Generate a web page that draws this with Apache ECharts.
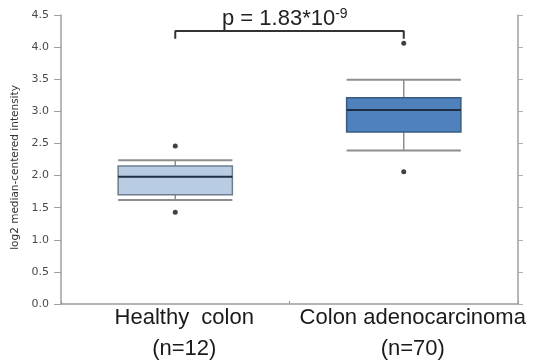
<!DOCTYPE html>
<html>
<head>
<meta charset="utf-8">
<script src="https://cdn.jsdelivr.net/npm/echarts@6/dist/echarts.min.js"></script>
<style>
html, body { margin: 0; padding: 0; background: #fff; }
#main { width: 536px; height: 362px; }
</style>
</head>
<body>
<div id="main"></div>
<script>
var myChart = echarts.init(document.getElementById('main'));

// groups and their box statistics: [min, q1, median, q3, max]
var groups = ['Healthy  colon\n(n=12)', 'Colon adenocarcinoma\n(n=70)'];
var boxStats = [
    [1.62, 1.70, 1.98, 2.15, 2.24],
    [2.39, 2.68, 3.02, 3.21, 3.49]
];
var outliers = [[0, 2.46], [0, 1.43], [1, 4.06], [1, 2.06]];
var boxFill = ['#b8cde4', '#4f81bd'];
var boxBorder = ['#6d7d8e', '#3a5b82'];
var yTicks = [0, 4.5, 0.5];
var bracket = [[0, 4.13], [0, 4.25], [1, 4.25], [1, 4.13]];

var boxData = boxStats.map(function (s, i) {
    return [i].concat(s);
});

function renderBox(params, api) {
    var idx = api.value(0);
    var half = api.size([1, 0])[0] * 0.25;
    var pMin = api.coord([idx, api.value(1)]);
    var pQ1 = api.coord([idx, api.value(2)]);
    var pMed = api.coord([idx, api.value(3)]);
    var pQ3 = api.coord([idx, api.value(4)]);
    var pMax = api.coord([idx, api.value(5)]);
    var cx = pMed[0];
    var whisk = { stroke: '#8e8e8e', lineWidth: 2 };
    return {
        type: 'group',
        children: [
            { type: 'line', shape: { x1: cx, y1: pMax[1], x2: cx, y2: pQ3[1] }, style: { stroke: '#8e8e8e', lineWidth: 1.5 } },
            { type: 'line', shape: { x1: cx, y1: pQ1[1], x2: cx, y2: pMin[1] }, style: { stroke: '#8e8e8e', lineWidth: 1.5 } },
            { type: 'line', shape: { x1: cx - half, y1: pMax[1], x2: cx + half, y2: pMax[1] }, style: whisk },
            { type: 'line', shape: { x1: cx - half, y1: pMin[1], x2: cx + half, y2: pMin[1] }, style: whisk },
            { type: 'rect', shape: { x: cx - half, y: pQ3[1], width: half * 2, height: pQ1[1] - pQ3[1] },
              style: { fill: boxFill[idx], stroke: boxBorder[idx], lineWidth: 1.5 } },
            { type: 'line', shape: { x1: cx - half, y1: pMed[1], x2: cx + half, y2: pMed[1] }, style: { stroke: '#1e2f44', lineWidth: 2 } }
        ]
    };
}

var option = {
    animation: false,
    title: {
        text: 'p = 1.83*10{sup|-9}',
        left: 217,
        top: 2,
        textStyle: {
            fontFamily: 'Liberation Sans',
            fontSize: 22,
            fontWeight: 'normal',
            color: '#222',
            rich: {
                sup: { fontFamily: 'Liberation Sans', fontSize: 14, color: '#222', verticalAlign: 'top', padding: [0, 0, 10, 0] }
            }
        }
    },
    grid: { left: 61, right: 18, top: 15, bottom: 58, outerBoundsMode: 'none' },
    xAxis: {
        type: 'category',
        data: groups,
        boundaryGap: true,
        axisLine: { lineStyle: { color: '#9a9a9a', width: 1.5 } },
        axisTick: { show: true, inside: true, length: 3, lineStyle: { color: '#9a9a9a' } },
        axisLabel: {
            interval: 0,
            margin: -2,
            fontFamily: 'Liberation Sans',
            fontSize: 22,
            lineHeight: 31,
            color: '#1a1a1a',
            padding: [0, 0, 0, 18]
        }
    },
    yAxis: [{
        type: 'value',
        min: yTicks[0],
        max: yTicks[1],
        interval: yTicks[2],
        name: 'log2 median-centered intensity',
        nameLocation: 'middle',
        nameGap: 36,
        nameTextStyle: { fontFamily: 'DejaVu Sans', fontSize: 10.5, color: '#333', padding: [0, 16, 0, 0] },
        axisLine: { show: true, lineStyle: { color: '#a0a0a0', width: 1.5 } },
        axisTick: { show: true, length: 7, lineStyle: { color: '#a0a0a0' } },
        axisLabel: {
            margin: 12,
            fontFamily: 'DejaVu Sans',
            fontSize: 11,
            color: '#4a4a4a',
            formatter: function (v) { return v.toFixed(1); }
        },
        splitLine: { show: false }
    }, {
        type: 'value',
        position: 'right',
        min: yTicks[0],
        max: yTicks[1],
        interval: yTicks[2],
        axisLine: { show: true, lineStyle: { color: '#a0a0a0', width: 1.5 } },
        axisTick: { show: true, length: 5, lineStyle: { color: '#b0b0b0' } },
        axisLabel: { show: false },
        splitLine: { show: false }
    }],
    series: [{
        type: 'custom',
        renderItem: renderBox,
        data: boxData,
        encode: { x: 0, y: [1, 2, 3, 4, 5] },
        z: 2
    }, {
        type: 'scatter',
        data: outliers,
        symbol: 'circle',
        symbolSize: 5,
        itemStyle: { color: '#111' },
        z: 3
    }, {
        type: 'line',
        data: bracket,
        symbol: 'none',
        lineStyle: { color: '#333', width: 2 },
        z: 4
    }]
};

myChart.setOption(option);
</script>
</body>
</html>
